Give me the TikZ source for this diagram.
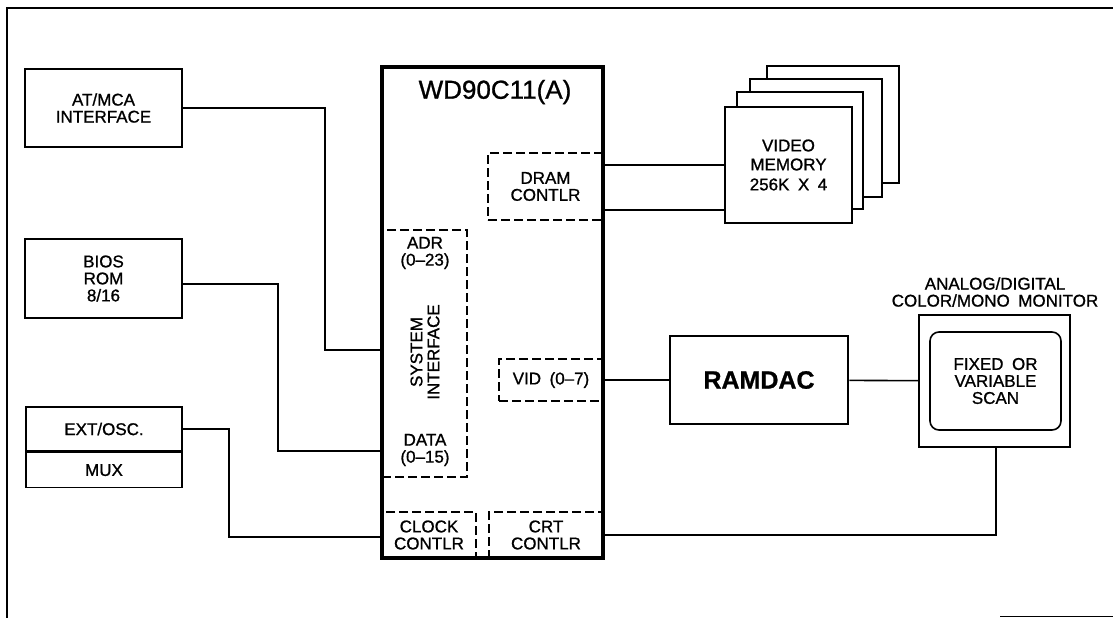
\documentclass[tikz,border=0pt]{standalone}
\usepackage{fontspec}
\setmainfont{Liberation Sans}[FakeBold=1]
\usepackage{tikz}
\usetikzlibrary{shapes,positioning}

\tikzset{
  lbl/.style={font=\fontsize{17}{17}\selectfont, align=center},
  box/.style={draw, rectangle, line width=1.6pt, inner sep=0pt, lbl},
  dbox/.style={box, dashed, dash pattern=on 9pt off 4pt},
  wire/.style={line width=1.6pt}
}

\begin{document}
\begin{tikzpicture}[x=1pt,y=-1pt]
 \useasboundingbox (0,0) rectangle (1113,618);
 % frame
 \draw[line width=1.6pt] (7,618) -- (7,8) -- (1113,8);
 \draw[line width=1pt] (1000,616) -- (1113,616);

 % left side blocks
 \node (atmca) [box, minimum width=157pt, minimum height=78pt] at (103.5,108) {AT/MCA\\ INTERFACE};
 \node (bios) [box, minimum width=157pt, minimum height=79pt] at (103.5,278.5) {BIOS\\ ROM\\ 8/16};
 \node (extosc) [box, minimum width=156pt, minimum height=44pt] at (104,429) {EXT/OSC.};
 \node (mux) [box, minimum width=156pt, minimum height=35pt, below=0pt of extosc] {MUX};

 % chip internals
 \node (dram) [dbox, minimum width=115pt, minimum height=67pt] at (545.5,186.5) {DRAM\\ CONTLR};
 \node (sysif) [dbox, minimum width=85pt, minimum height=247pt] at (424.5,353.5) {};
 \node (adr) [lbl] at (425,253) {ADR\\ (0--23)};
 \node (sysiftext) [lbl, rotate=90] at (425,352) {SYSTEM\\ INTERFACE};
 \node (data) [lbl] at (425,450) {DATA\\ (0--15)};
 \node (vid) [dbox, minimum width=104pt, minimum height=42pt] at (551,380) {VID\enspace(0--7)};
 \node (clock) [dbox, minimum width=94pt, minimum height=46pt] at (429,535) {CLOCK\\ CONTLR};
 \node (crt) [dbox, minimum width=114pt, minimum height=46pt] at (546,535) {CRT\\ CONTLR};
 \node (chip) [draw, rectangle, line width=3.2pt, minimum width=221pt, minimum height=491pt] at (492.5,312.5) {};
 \node (chiptitle) [font=\fontsize{26}{26}\selectfont] at (495,92) {WD90C11(A)};

 % video memory stack
 \node (vmem4) [box, fill=white, minimum width=132pt, minimum height=117pt] at (833,124.5) {};
 \node (vmem3) [box, fill=white, minimum width=132pt, minimum height=118pt] at (816,138) {};
 \node (vmem2) [box, fill=white, minimum width=126pt, minimum height=117pt] at (800,150.5) {};
 \node (vmem) [box, fill=white, minimum width=127pt, minimum height=116pt] at (788.5,165) {VIDEO\\[2pt] MEMORY\\[3pt] 256K\enspace X\enspace 4};

 % ramdac and monitor
 \node (ramdac) [draw, rectangle, line width=2.6pt, minimum width=178pt, minimum height=88pt, font=\fontsize{25}{25}\selectfont\bfseries] at (759,380) {RAMDAC};
 \node (monitor) [box, minimum width=151pt, minimum height=132pt] at (994.5,381) {};
 \node (screen) [box, rounded corners=9pt, minimum width=131pt, minimum height=98pt] at (995.5,381) {FIXED\enspace OR\\ VARIABLE\\ SCAN};
 \node (monlabel) [lbl] at (995,292) {ANALOG/DIGITAL\\ COLOR/MONO\enspace MONITOR};

 % connections
 \coordinate (atbend) at (325,350);
 \coordinate (biosbend) at (278,451);
 \coordinate (clkbend) at (229,537);
 \draw[wire] (atmca) -| (atbend) -- (atbend -| chip.west);
 \draw[wire] ([yshift=-5.5pt]bios.east) -| (biosbend) -- (biosbend -| chip.west);
 \draw[wire] (extosc) -| (clkbend) -- (clkbend -| chip.west);
 \draw[wire] ([yshift=21.5pt]dram.east) -- ([yshift=21.5pt]dram.east -| vmem.west);
 \draw[wire] ([yshift=-23.5pt]dram.east) -- ([yshift=-23.5pt]dram.east -| vmem.west);
 \draw[wire] (vid) -- (ramdac);
 \draw[wire] (ramdac) -- (monitor);
 \draw[wire] (crt.east) -| ([xshift=1.5pt]monitor.south);
\end{tikzpicture}
\end{document}
